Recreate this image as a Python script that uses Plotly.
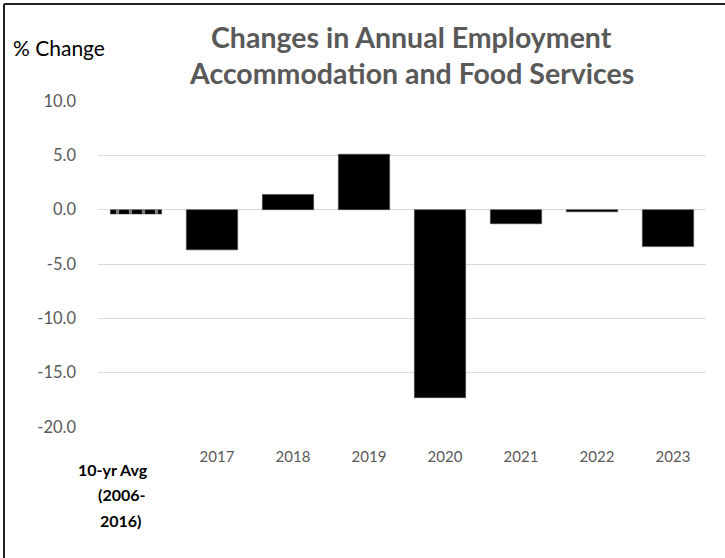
import plotly.graph_objects as go

categories = ["10-yr Avg (2006-2016)", "2017", "2018", "2019", "2020", "2021", "2022", "2023"]
tick_labels = ["", "2017", "2018", "2019", "2020", "2021", "2022", "2023"]
first_label_lines = ["10-yr Avg", "(2006-", "2016)"]
pct_change = [-0.4, -3.7, 1.4, 5.1, -17.3, -1.3, -0.2, -3.4]
y_ticks = [10, 5, 0, -5, -10, -15, -20]
y_tick_labels = ["10.0", "5.0", "0.0", "-5.0", "-10.0", "-15.0", "-20.0"]

W, H = 725, 558
ML, MR, MT, MB = 98, 19, 101, 131
pw, ph = W - ML - MR, H - MT - MB

FONT = "Lato"
GRAY = "#595959"

fig = go.Figure()
fig.add_trace(go.Bar(
    x=categories, y=pct_change,
    marker=dict(
        color="black",
        line=dict(color="#404040", width=0.5),
        pattern=dict(shape=["|", "", "", "", "", "", "", ""],
                     fgcolor="white", bgcolor="black", size=13, solidity=0.25),
    ),
    hoverinfo="x+y",
))

fig.update_layout(
    width=W, height=H,
    margin=dict(l=ML, r=MR, t=MT, b=MB, autoexpand=False),
    plot_bgcolor="white", paper_bgcolor="white",
    showlegend=False,
    bargap=0.325,
    font=dict(family=FONT, color=GRAY),
)
fig.update_yaxes(
    range=[-20, 10], tickvals=y_ticks, ticktext=y_tick_labels, automargin=False,
    showgrid=True, gridcolor="#d9d9d9", gridwidth=1,
    zeroline=True, zerolinecolor="#d9d9d9", zerolinewidth=1,
    showline=False, ticks="", ticklabelstandoff=21,
    tickfont=dict(size=16.5, color=GRAY, family=FONT),
)
fig.update_xaxes(
    range=[-0.5, len(categories) - 0.5],
    tickvals=categories, ticktext=tick_labels, automargin=False,
    showline=False, ticks="", showgrid=False, ticklabelstandoff=19, ticklabelshift=5,
    tickfont=dict(size=15, color=GRAY, family=FONT),
)

def px_x(x):
    return (x - ML) / pw

def px_y(y):
    return 1 + (MT - y) / ph

fig.add_annotation(text="<b>Changes in Annual Employment</b>", xref="paper", yref="paper",
                   x=px_x(411), y=px_y(37), xanchor="center", yanchor="middle",
                   showarrow=False, font=dict(size=28.5, color=GRAY, family=FONT))
fig.add_annotation(text="<b>Accommodation and Food Services</b>", xref="paper", yref="paper",
                   x=px_x(411), y=px_y(73), xanchor="center", yanchor="middle",
                   showarrow=False, font=dict(size=28.5, color=GRAY, family=FONT))
fig.add_annotation(text="% Change", xref="paper", yref="paper",
                   x=px_x(11), y=px_y(47), xanchor="left", yanchor="middle",
                   showarrow=False, font=dict(size=21, color="black", family=FONT))
line_centers = [113, 122, 121]
for i, line in enumerate(first_label_lines):
    fig.add_annotation(text="<b>" + line + "</b>", xref="paper", yref="paper",
                       x=px_x(line_centers[i]), y=px_y(470 + 25 * i), xanchor="center", yanchor="middle",
                       showarrow=False, font=dict(size=16, color="black", family=FONT))

# chart frame (top and left edges visible in the reference)
fig.add_shape(type="line", xref="paper", yref="paper",
              x0=px_x(4), x1=px_x(W + 5), y0=px_y(4), y1=px_y(4),
              line=dict(color="#222222", width=2))
fig.add_shape(type="line", xref="paper", yref="paper",
              x0=px_x(4), x1=px_x(4), y0=px_y(4), y1=px_y(H + 5),
              line=dict(color="#222222", width=2))

fig.write_html("out.html", config={"displayModeBar": False},
               post_script="document.body.style.margin='0';document.body.style.overflow='hidden';")
